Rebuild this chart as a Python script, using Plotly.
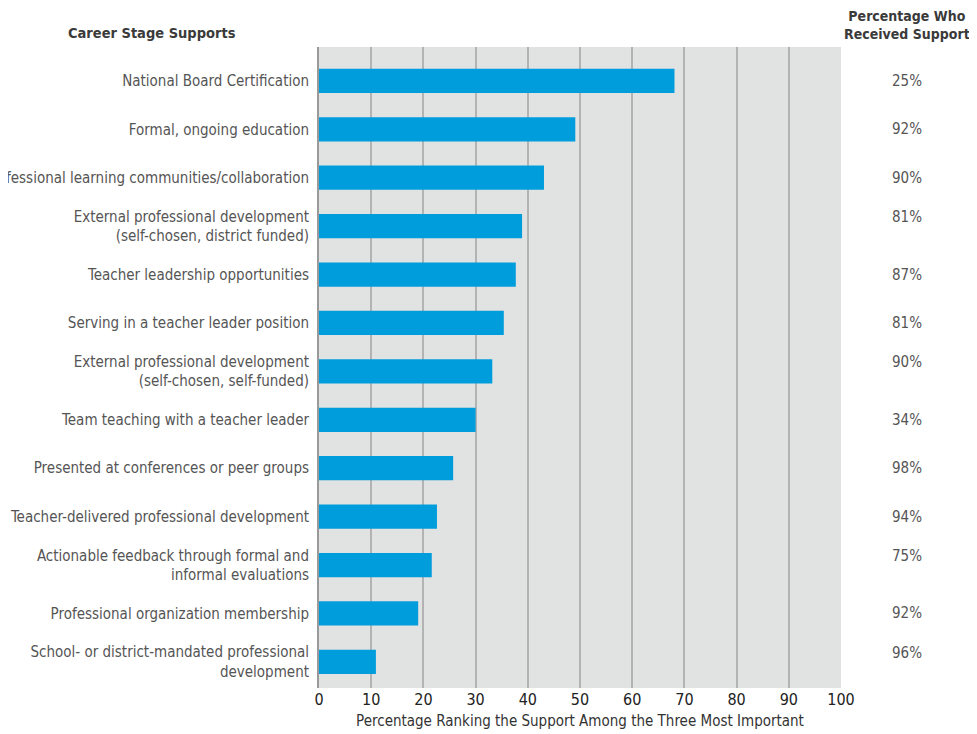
import plotly.graph_objects as go

categories = [
    "National Board Certification",
    "Formal, ongoing education",
    "Professional learning communities/collaboration",
    "External professional development<br>(self-chosen, district funded)",
    "Teacher leadership opportunities",
    "Serving in a teacher leader position",
    "External professional development<br>(self-chosen, self-funded)",
    "Team teaching with a teacher leader",
    "Presented at conferences or peer groups",
    "Teacher-delivered professional development",
    "Actionable feedback through formal and<br>informal evaluations",
    "Professional organization membership",
    "School- or district-mandated professional<br>development",
]
ranking_pct = [68.1, 49.1, 43.1, 38.9, 37.7, 35.4, 33.2, 30.0, 25.7, 22.6, 21.6, 19.0, 10.9]
received_pct = ["25%", "92%", "90%", "81%", "87%", "81%", "90%", "34%", "98%", "94%", "75%", "92%", "96%"]
x_ticks = [0, 10, 20, 30, 40, 50, 60, 70, 80, 90, 100]

FONT = "DejaVu Sans Condensed, Liberation Sans Narrow, sans-serif"
idx = list(range(len(categories)))

fig = go.Figure()
fig.add_trace(go.Bar(
    x=ranking_pct, y=idx, orientation="h",
    marker=dict(color="#009ddc", line=dict(width=0)),
    width=0.5, hoverinfo="x",
))

annotations = []
for i, (lab, val) in enumerate(zip(categories, received_pct)):
    two = "<br>" in lab
    annotations.append(dict(
        x=1.1264, xref="paper", y=i, yref="y", text=val, showarrow=False,
        xanchor="center", yanchor="middle", yshift=9 if two else 0,
        font=dict(family=FONT, size=15, color="#555555"),
    ))
annotations.append(dict(
    x=-0.32, xref="paper", y=1.022, yref="paper", text="<b>Career Stage Supports</b>",
    showarrow=False, xanchor="center", yanchor="middle",
    font=dict(family=FONT, size=14.5, color="#3a3a3a"),
))
annotations.append(dict(
    x=1.127, xref="paper", y=1.035, yref="paper",
    text="<b>Percentage Who<br>Received Support</b>",
    showarrow=False, xanchor="center", yanchor="middle",
    font=dict(family=FONT, size=14, color="#3a3a3a"),
))

fig.update_layout(
    width=977, height=734,
    margin=dict(l=311, r=144, t=39, b=54),
    paper_bgcolor="white", plot_bgcolor="#e1e2e2",
    showlegend=False, bargap=0.5,
    font=dict(family=FONT, size=15, color="#555555"),
    xaxis=dict(
        range=[0, 100], tickvals=x_ticks, ticktext=[str(t) for t in x_ticks],
        showgrid=True, gridcolor="#b3b3b3", gridwidth=1.5,
        zeroline=False, showline=False, ticks="", automargin=False,
        tickfont=dict(family=FONT, size=16, color="#222222"),
        title=dict(text="Percentage Ranking the Support Among the Three Most Important",
                   font=dict(family=FONT, size=15, color="#333333"), standoff=7),
        fixedrange=True,
    ),
    yaxis=dict(
        tickvals=idx, ticktext=categories, range=[12.54, -0.70],
        showgrid=False, zeroline=False, showline=True, linecolor="#999999", linewidth=2,
        ticks="", ticklabelstandoff=5, automargin=False,
        tickfont=dict(family=FONT, size=15, color="#555555"),
        fixedrange=True,
    ),
    annotations=annotations,
)

fig.write_html("out.html")
